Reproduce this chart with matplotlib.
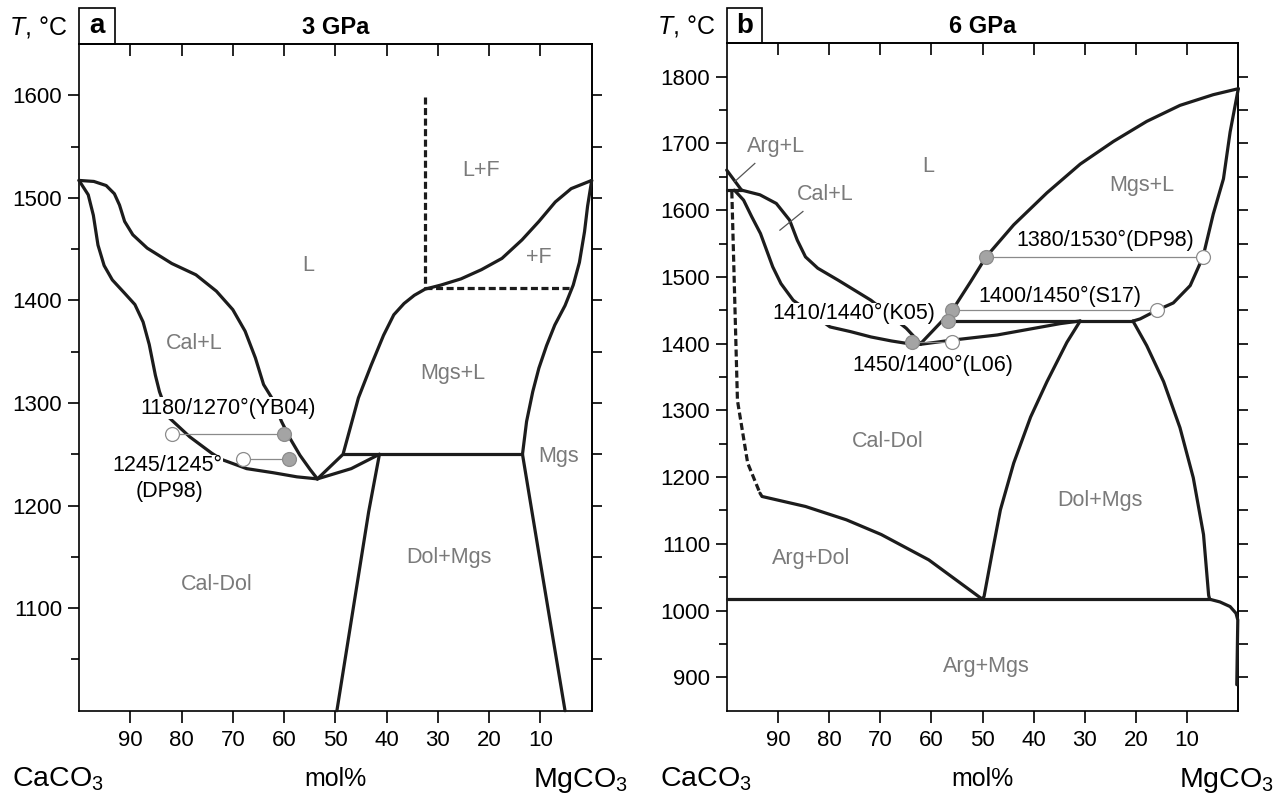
import matplotlib
matplotlib.use("Agg")
import matplotlib.pyplot as plt
from matplotlib.patches import Rectangle

plt.rcParams["font.family"] = ["Liberation Sans", "DejaVu Sans"]
plt.rcParams["mathtext.fontset"] = "custom"
plt.rcParams["mathtext.rm"] = "Liberation Sans"
plt.rcParams["mathtext.it"] = "Liberation Sans:italic"
plt.rcParams["mathtext.bf"] = "Liberation Sans:bold"

# ---------------- data: panel a, 3 GPa ----------------
a_cal_liq_x = [100, 97.1, 94.7, 93.1, 92.1, 91.1, 89.5, 86.7, 81.9, 77.2, 73.2, 70.0, 67.6,
               65.6, 64.0, 62.4, 60.5, 58.9, 56.9, 54.9, 53.5]
a_cal_liq_y = [1517, 1516, 1512, 1504, 1493, 1477, 1464, 1451, 1436, 1425, 1409, 1391, 1370,
               1344, 1318, 1305, 1282, 1266, 1249, 1235, 1226]
a_cal_sol_x = [100, 98.2, 97.2, 96.3, 95.1, 93.5, 91.1, 89.1, 87.5, 86.3, 85.1, 84.3, 82.5,
               78.4, 74.1, 72.2, 67.3, 62.1, 57.5, 53.5]
a_cal_sol_y = [1517, 1503, 1483, 1454, 1434, 1420, 1407, 1396, 1379, 1357, 1327, 1311, 1286,
               1267, 1251, 1245, 1236, 1232, 1228, 1226]
a_mgs_liq_x = [53.5, 48.5, 45.5, 43.0, 40.6, 38.6, 36.6, 34.6, 32.5, 29.4, 25.5, 21.5, 17.5,
               13.6, 10.3, 7.1, 4.0, 0]
a_mgs_liq_y = [1226, 1250, 1305, 1337, 1366, 1386, 1397, 1405, 1411, 1415, 1421, 1430, 1441,
               1459, 1477, 1496, 1509, 1517]
a_mgs_sol_x = [0, 0.8, 1.4, 2.4, 3.6, 5.2, 7.2, 8.8, 10.3, 11.5, 12.7, 13.5]
a_mgs_sol_y = [1517, 1492, 1467, 1437, 1415, 1395, 1376, 1356, 1334, 1311, 1282, 1250]
a_dol_solvus_x = [53.5, 46.9, 41.4]
a_dol_solvus_y = [1226, 1236, 1250]
a_dol_left_x = [41.4, 43.5, 46.6, 49.7]
a_dol_left_y = [1250, 1194, 1097, 1000]
a_mgs_right_x = [13.5, 9.5, 5.2]
a_mgs_right_y = [1250, 1129, 1000]
a_tie_t = 1250
a_tie_x = [48.5, 13.5]
a_fluid_x = 32.6
a_fluid_y = [1598, 1412]
a_fluid_t = 1412
a_fluid_tx = [32.6, 3.8]

a_exp_open_x = [81.9, 68.1]
a_exp_grey_x = [60.0, 59.0]
a_exp_t = [1270, 1245]

a_fields = ["L", "L+F", "+F", "Cal+L", "Mgs+L", "Mgs", "Dol+Mgs", "Cal-Dol"]
a_fields_x = [55.3, 21.5, 10.3, 77.6, 27.0, 6.4, 27.8, 73.2]
a_fields_y = [1434, 1527, 1442, 1358, 1329, 1248, 1149, 1123]
a_notes = ["1180/1270°(YB04)", "1245/1245°", "(DP98)"]
a_notes_x = [71.0, 82.8, 82.4]
a_notes_y = [1295, 1239, 1214]

# ---------------- data: panel b, 6 GPa ----------------
b_arg_liq_x = [100, 97.1]
b_arg_liq_y = [1660, 1630]
b_triple_t = 1630
b_triple_x = [100, 97.1]
b_cal_liq_x = [97.1, 93.5, 90.3, 87.7, 86.2, 84.6, 82.2, 78.2, 75.0, 71.8, 64.9, 62.1]
b_cal_liq_y = [1630, 1623, 1610, 1585, 1555, 1530, 1513, 1495, 1480, 1465, 1423, 1400]
b_cal_sol_x = [98.5, 96.7, 95.1, 93.4, 92.2, 91.0, 89.4, 87.0, 79.8, 75.8, 71.8, 67.8, 64.5, 62.1]
b_cal_sol_y = [1630, 1615, 1590, 1565, 1540, 1515, 1490, 1465, 1425, 1418, 1410, 1404, 1400, 1399]
b_dol_liq_x = [62.1, 56.2, 47.1, 40.6, 34.8, 30.9]
b_dol_liq_y = [1399, 1405, 1413, 1422, 1430, 1434]
b_mgs_liq_x = [62.1, 55.9, 52.3, 49.3, 43.9, 37.4, 30.9, 24.4, 17.9, 11.4, 4.9, 0]
b_mgs_liq_y = [1400, 1450, 1493, 1530, 1578, 1626, 1669, 1703, 1733, 1757, 1773, 1782]
b_mgs_sol_x = [0, 1.6, 2.9, 4.9, 6.9, 9.4, 12.7, 15.9, 19.2, 20.5]
b_mgs_sol_y = [1782, 1717, 1647, 1594, 1530, 1487, 1461, 1450, 1437, 1434]
b_peri_t = 1434
b_peri_x = [57.0, 20.5]
b_dol_left_x = [30.9, 33.5, 37.4, 40.6, 43.9, 46.5, 48.1, 49.7, 50.1]
b_dol_left_y = [1434, 1402, 1343, 1290, 1221, 1151, 1087, 1021, 1017]
b_dol_right_x = [20.6, 17.9, 14.6, 11.4, 8.8, 6.8, 5.8, 5.6]
b_dol_right_y = [1434, 1397, 1343, 1274, 1199, 1114, 1023, 1017]
b_arg_cal_x = [99.0, 97.9, 97.5, 95.9, 93.5]
b_arg_cal_y = [1628, 1315, 1296, 1221, 1176]
b_arg_dol_x = [93.5, 93.1, 84.6, 76.6, 69.8, 60.5, 50.2]
b_arg_dol_y = [1176, 1171, 1156, 1136, 1114, 1076, 1018]
b_base_t = 1017
b_base_x = [100, 5.6]
b_corner_x = [5.6, 3.6, 1.6, 0.45, 0.1, 0.3]
b_corner_y = [1017, 1013, 1006, 996, 986, 889]

b_exp_open_x = [6.9, 15.9, 55.9]
b_exp_grey_x = [49.3, 55.9, 63.7]
b_exp_t = [1530, 1450, 1402]
b_k05_x = 56.8
b_k05_t = 1434

b_fields = ["Arg+L", "Cal+L", "L", "Mgs+L", "Cal-Dol", "Dol+Mgs", "Arg+Dol", "Arg+Mgs"]
b_fields_x = [90.3, 80.8, 60.6, 18.9, 68.6, 27.1, 83.4, 49.3]
b_fields_y = [1695, 1623, 1666, 1637, 1253, 1165, 1078, 916]
b_leaders_x = [[94.5, 98.4], [85.1, 89.6]]
b_leaders_y = [[1670, 1643], [1598, 1570]]
b_notes = ["1380/1530°(DP98)", "1400/1450°(S17)", "1410/1440°(K05)", "1450/1400°(L06)"]
b_notes_x = [26.0, 34.8, 75.2, 59.7]
b_notes_y = [1554, 1471, 1445, 1367]

xticks = [90, 80, 70, 60, 50, 40, 30, 20, 10]

LINE = "#1c1c1c"
GREY_TXT = "#7a7a7a"
W = 1286
H = 796


def curve(ax, x, y, dashed=False):
    kw = dict(color=LINE, lw=2.3, solid_joinstyle="round", solid_capstyle="round",
              zorder=3, clip_on=False)
    if dashed:
        kw["dashes"] = (2.2, 1.1)
    ax.plot(x, y, **kw)


def setup(ax, ylo, yhi, w_px, h_px, major, minor, panel, title):
    ax.set_xlim(100, 0)
    ax.set_ylim(ylo, yhi)
    ax.set_xticks(xticks)
    ax.set_yticks(major)
    ax.set_yticks(minor, minor=True)
    for s in ax.spines.values():
        s.set_linewidth(1.2)
    ax.tick_params(axis="x", which="major", top=False, bottom=True, direction="out",
                   length=8.6, width=1.2, pad=5, labelsize=16)
    ax.tick_params(axis="y", which="major", left=True, right=False, direction="out",
                   length=8, width=1.2, pad=4, labelsize=16)
    ax.tick_params(axis="y", which="minor", left=True, right=False, direction="out",
                   length=5.8, width=1.2)

    top = ax.secondary_xaxis("top")
    top.set_xticks(xticks)
    top.tick_params(axis="x", direction="in", length=8.6, width=1.2, labeltop=False)
    top.spines["top"].set_linewidth(1.2)
    right = ax.secondary_yaxis("right")
    right.set_yticks(sorted(major + minor))
    right.tick_params(axis="y", direction="out", length=7, width=1.2, labelright=False)
    right.spines["right"].set_linewidth(1.2)

    px = 1.0 / w_px   # one pixel in axes fraction (x)
    py = 1.0 / h_px   # one pixel in axes fraction (y)
    bw, bh = 35.5 * px, 35.5 * py
    ax.add_patch(Rectangle((0, 1), bw, bh, transform=ax.transAxes, fill=False,
                           lw=1.2, ec="black", clip_on=False))
    ax.text(bw / 2, 1 + bh / 2, panel, transform=ax.transAxes, ha="center",
            va="center", fontsize=20, fontweight="bold")
    ax.text(-12 * px, 1 + 17 * py, r"$T$, °C", transform=ax.transAxes, ha="right",
            va="center", fontsize=18)
    ax.text(0.5, 1 + 17 * py, title, transform=ax.transAxes, ha="center",
            va="center", fontsize=17, fontweight="bold")
    ax.text(-67 * px, -76 * py, r"CaCO$_3$", transform=ax.transAxes, ha="left",
            va="baseline", fontsize=20.5)
    ax.text(1 + 36 * px, -76 * py, r"MgCO$_3$", transform=ax.transAxes, ha="right",
            va="baseline", fontsize=20.5)
    ax.text(0.5, -75 * py, "mol%", transform=ax.transAxes, ha="center",
            va="baseline", fontsize=18)


def grey_dot(ax, x, t):
    ax.plot(x, t, "o", ms=10, mfc="#a4a4a4", mec="#8c8c8c", mew=0.9, zorder=6)


def experiments(ax, open_x, grey_x, temps):
    for ox, gx, t in zip(open_x, grey_x, temps):
        ax.plot([ox, gx], [t, t], color="#8a8a8a", lw=0.9, zorder=4)
        ax.plot(ox, t, "o", ms=10, mfc="white", mec="#8c8c8c", mew=0.9, zorder=6)
        grey_dot(ax, gx, t)


fig = plt.figure(figsize=(W / 100, H / 100), dpi=100)
ax_a = fig.add_axes([79 / W, 1 - 710.7 / H, 512.7 / W, 666.7 / H])
ax_b = fig.add_axes([726.7 / W, 1 - 710.7 / H, 511.6 / W, 667.4 / H])

# ---- panel a ----
setup(ax_a, 1000, 1650, 512.7, 666.7, list(range(1100, 1601, 100)),
      list(range(1050, 1551, 100)), "a", "3 GPa")
for xs, ys in [(a_cal_liq_x, a_cal_liq_y), (a_cal_sol_x, a_cal_sol_y),
               (a_mgs_liq_x, a_mgs_liq_y), (a_mgs_sol_x, a_mgs_sol_y),
               (a_dol_solvus_x, a_dol_solvus_y), (a_dol_left_x, a_dol_left_y),
               (a_mgs_right_x, a_mgs_right_y), (a_tie_x, [a_tie_t, a_tie_t])]:
    curve(ax_a, xs, ys)
curve(ax_a, [a_fluid_x, a_fluid_x], a_fluid_y, dashed=True)
curve(ax_a, a_fluid_tx, [a_fluid_t, a_fluid_t], dashed=True)
experiments(ax_a, a_exp_open_x, a_exp_grey_x, a_exp_t)
for s, x, y in zip(a_fields, a_fields_x, a_fields_y):
    ax_a.text(x, y, s, ha="center", va="center", fontsize=15.5, color=GREY_TXT)
for s, x, y in zip(a_notes, a_notes_x, a_notes_y):
    ax_a.text(x, y, s, ha="center", va="center", fontsize=15.5, zorder=5,
              bbox=dict(facecolor="white", edgecolor="none", pad=0.3))

# ---- panel b ----
setup(ax_b, 850, 1850, 511.6, 667.4, list(range(900, 1801, 100)),
      list(range(950, 1751, 100)), "b", "6 GPa")
for xs, ys in [(b_arg_liq_x, b_arg_liq_y), (b_triple_x, [b_triple_t, b_triple_t]),
               (b_cal_liq_x, b_cal_liq_y), (b_cal_sol_x, b_cal_sol_y),
               (b_dol_liq_x, b_dol_liq_y), (b_mgs_liq_x, b_mgs_liq_y),
               (b_mgs_sol_x, b_mgs_sol_y), (b_peri_x, [b_peri_t, b_peri_t]),
               (b_dol_left_x, b_dol_left_y), (b_dol_right_x, b_dol_right_y),
               (b_arg_dol_x, b_arg_dol_y), (b_base_x, [b_base_t, b_base_t]),
               (b_corner_x, b_corner_y)]:
    curve(ax_b, xs, ys)
curve(ax_b, b_arg_cal_x, b_arg_cal_y, dashed=True)
experiments(ax_b, b_exp_open_x, b_exp_grey_x, b_exp_t)
grey_dot(ax_b, b_k05_x, b_k05_t)
for s, x, y in zip(b_fields, b_fields_x, b_fields_y):
    ax_b.text(x, y, s, ha="center", va="center", fontsize=15.5, color=GREY_TXT)
for lx, ly in zip(b_leaders_x, b_leaders_y):
    ax_b.plot(lx, ly, color="#555555", lw=0.9, zorder=4)
for s, x, y in zip(b_notes, b_notes_x, b_notes_y):
    ax_b.text(x, y, s, ha="center", va="center", fontsize=15.5, zorder=5,
              bbox=dict(facecolor="white", edgecolor="none", pad=0.3))

fig.savefig("out.png", dpi=100)
